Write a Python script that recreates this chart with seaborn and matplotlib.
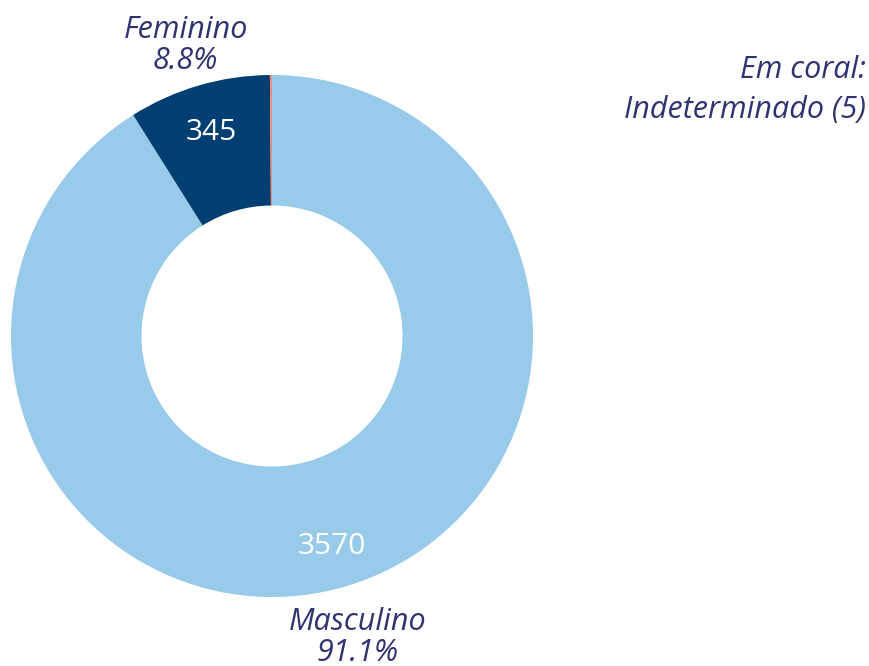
import numpy as np
import matplotlib
matplotlib.use("Agg")
import matplotlib.pyplot as plt
import seaborn as sns

categories = ["Masculino", "Feminino", "Indeterminado"]
values = [3570, 345, 5]
colors = ["#98CBEA", "#013E71", "#F08C7A"]
note = "Em coral:\nIndeterminado (5)"

sns.set_theme(style="white")
plt.rcParams['font.family'] = ['Open Sans', 'DejaVu Sans']

W, H = 870, 666
fig = plt.figure(figsize=(W / 100, H / 100), dpi=100)
cx, cy, R = 272, 336, 261
ax = fig.add_axes([(cx - R) / W, (H - cy - R) / H, 2 * R / W, 2 * R / H])

total = sum(values)
wedges, _ = ax.pie(values, colors=colors, startangle=90, counterclock=False,
                   radius=1.0, wedgeprops=dict(width=0.5, linewidth=0))
ax.set_xlim(-1, 1)
ax.set_ylim(-1, 1)
ax.set_aspect('equal')
ax.axis('off')

txt_color = "#2E3470"
for w, cat, v in zip(wedges, categories, values):
    pct = v / total * 100
    if pct < 2:
        continue
    ang = np.deg2rad((w.theta1 + w.theta2) / 2)
    r_in = 0.825
    ax.text(r_in * np.cos(ang), r_in * np.sin(ang), f"{v}", color="white",
            ha="center", va="center_baseline", fontsize=21.5)
    r_out = 1.18
    ax.text(r_out * np.cos(ang), r_out * np.sin(ang) - 0.02, f"{cat}\n{pct:.1f}%",
            color=txt_color, ha="center", va="center", fontsize=22,
            style="italic", linespacing=1.05, clip_on=False)

fig.text(866 / W, 1 - 90 / H, note, ha="right", va="center", color=txt_color,
         fontsize=22, style="italic", linespacing=1.4)

fig.savefig("out.png", dpi=100)
